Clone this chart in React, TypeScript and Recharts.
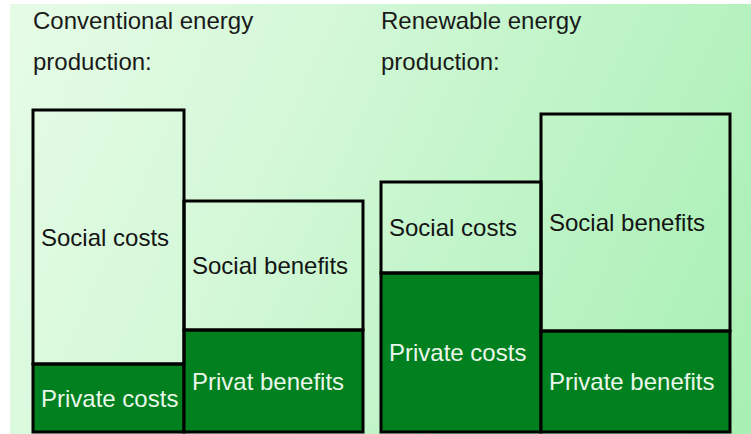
import { ComposedChart, XAxis, YAxis, ReferenceArea } from "recharts";

const groupTitles = ["Conventional energy\nproduction:", "Renewable energy\nproduction:"];
const columnGroups = [0, 0, 1, 1];
const columnWidths = [151, 179, 160, 189];
const groupStarts = [33, 381];
const privateValues = [68, 102, 159, 101];
const socialValues = [254, 129, 91, 217];
const privateLabels = ["Private costs", "Privat benefits", "Private costs", "Private benefits"];
const socialLabels = ["Social costs", "Social benefits", "Social costs", "Social benefits"];

const W = 751;
const H = 434;
const FONT = '"Liberation Sans", Arial, sans-serif';
const DARK_GREEN = "#00801f";

// column edges along the x axis, built from the widths
const edges = columnWidths.map((w, i) => {
  const g = columnGroups[i];
  let start = groupStarts[g];
  for (let j = 0; j < i; j++) if (columnGroups[j] === g) start += columnWidths[j];
  return [start, start + w];
});

const label = (text: string, color: string) => ({
  value: text,
  position: "insideLeft" as const,
  offset: 8,
  fill: color,
  fontSize: 24,
  fontFamily: FONT,
});

export default function App() {
  return (
    <div style={{ position: "fixed", left: 0, top: 0, width: W, height: H, background: "#fff", overflow: "hidden" }}>
      <div
        style={{
          position: "absolute",
          left: 10,
          top: 4,
          right: 0,
          bottom: 0,
          background: "linear-gradient(115deg, #e6fbe6 0%, #d4f8d8 35%, #bbf3c4 70%, #a7efb2 100%)",
        }}
      />
      {groupTitles.map((t, g) => (
        <div
          key={g}
          style={{
            position: "absolute",
            left: groupStarts[g],
            top: 0,
            fontFamily: FONT,
            fontSize: 24,
            lineHeight: "41px",
            color: "#1a1a1a",
            whiteSpace: "pre",
          }}
        >
          {t}
        </div>
      ))}
      <div style={{ position: "absolute", left: 0, top: 0 }}>
        <ComposedChart width={W} height={H} margin={{ top: 0, right: 0, bottom: 2, left: 0 }}>
          <XAxis type="number" dataKey="x" domain={[0, W]} hide allowDataOverflow />
          <YAxis type="number" domain={[0, H - 2]} hide allowDataOverflow />
          {edges.map(([x1, x2], i) => (
            <ReferenceArea
              key={`p${i}`}
              x1={x1}
              x2={x2}
              y1={0}
              y2={privateValues[i]}
              fill={DARK_GREEN}
              fillOpacity={1}
              stroke="#000"
              strokeWidth={3}
              ifOverflow="visible"
              label={label(privateLabels[i], "#eaf7ea")}
            />
          ))}
          {edges.map(([x1, x2], i) => (
            <ReferenceArea
              key={`s${i}`}
              x1={x1}
              x2={x2}
              y1={privateValues[i]}
              y2={privateValues[i] + socialValues[i]}
              fill="none"
              fillOpacity={0}
              stroke="#000"
              strokeWidth={3}
              ifOverflow="visible"
              label={label(socialLabels[i], "#141414")}
            />
          ))}
        </ComposedChart>
      </div>
    </div>
  );
}
